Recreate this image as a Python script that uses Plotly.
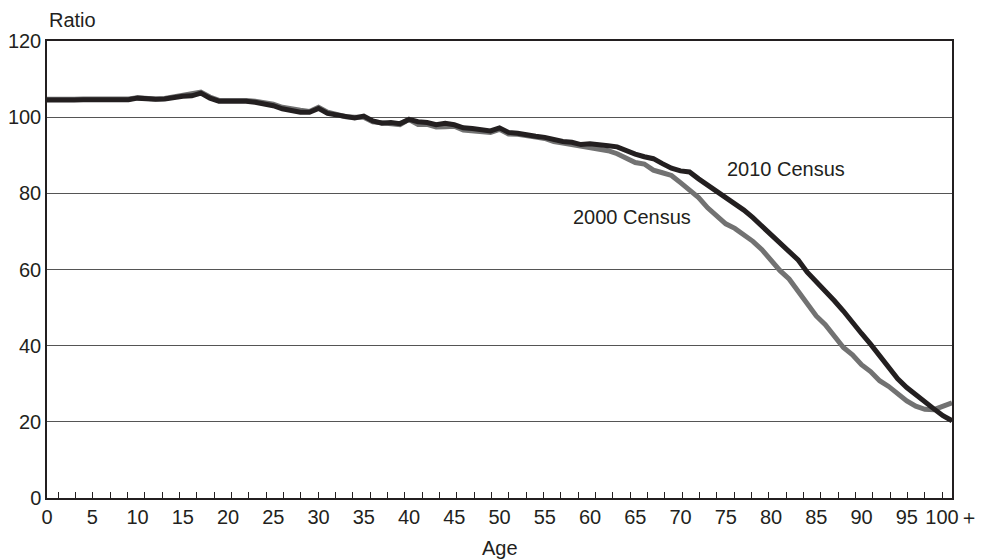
import plotly.graph_objects as go

# Sex ratio (males per 100 females) by single year of age, 0 to 100+
ages = list(range(0, 101))
age_labels = [str(a) for a in range(0, 100, 5)] + ["100＋"]
age_label_pos = list(range(0, 101, 5))

ratio_2000 = [
    104.7, 104.6, 104.6, 104.7, 104.8, 104.8, 104.6, 104.5, 104.6, 104.8,
    105.1, 104.9, 104.8, 104.9, 105.3, 105.7, 105.9, 106.6, 105.3, 104.4,
    104.4, 104.5, 104.4, 104.2, 103.8, 103.4, 102.6, 102.1, 101.8, 101.5,
    102.6, 101.3, 100.6, 100.1, 100.0, 100.0, 98.8, 98.5, 98.4, 98.0,
    99.4, 98.1, 98.1, 97.4, 97.5, 97.6, 96.6, 96.5, 96.4, 96.0,
    96.8, 95.6, 95.5, 95.0, 94.8, 94.4, 93.6, 93.2, 92.8, 92.3,
    92.2, 91.8, 91.2, 90.4, 89.1, 88.1, 87.7, 86.1, 85.4, 84.7,
    82.8, 80.8, 78.9, 76.2, 73.9, 72.0, 70.8, 69.2, 67.4, 65.2,
    62.4, 59.7, 57.5, 54.3, 51.0, 47.8, 45.5, 42.7, 39.5, 37.6,
    35.0, 33.2, 30.8, 29.3, 27.3, 25.5, 24.1, 23.3, 23.2, 24.0,
    25.0,
]

ratio_2010 = [
    104.5, 104.4, 104.4, 104.5, 104.6, 104.6, 104.4, 104.3, 104.4, 104.6,
    105.0, 104.8, 104.7, 104.8, 105.2, 105.5, 105.6, 106.3, 105.0, 104.2,
    104.2, 104.3, 104.2, 103.9, 103.5, 103.0, 102.2, 101.7, 101.3, 101.3,
    102.3, 101.0, 100.6, 100.0, 99.8, 100.3, 99.0, 98.4, 98.6, 98.3,
    99.4, 98.8, 98.6, 98.0, 98.4, 98.0, 97.2, 97.0, 96.8, 96.4,
    97.2, 96.0, 95.8, 95.3, 95.0, 94.7, 94.0, 93.6, 93.4, 92.8,
    93.0, 92.6, 92.5, 92.2, 91.2, 90.3, 89.6, 89.1, 87.8, 86.6,
    85.9, 85.6, 83.8, 82.2, 80.5, 78.9, 77.1, 75.6, 73.6, 71.4,
    69.3, 67.1, 65.0, 62.5, 59.3, 56.9, 54.5, 51.8, 49.1, 46.0,
    43.2, 40.4, 37.4, 34.3, 31.3, 29.0, 27.0, 25.2, 23.4, 21.6,
    20.3,
]

y_ticks = [0, 20, 40, 60, 80, 100, 120]

# small inside ticks along the age axis
minor_tick_pos = [1.25 + 1.915 * k for k in range(52)]

INK = "#231f20"
GREY = "#727272"
FONT = "Liberation Sans, Arial, Helvetica, sans-serif"

fig = go.Figure()
fig.add_trace(go.Scatter(
    x=ages, y=ratio_2000, mode="lines", name="2000 Census",
    line=dict(color=GREY, width=5), showlegend=False,
))
fig.add_trace(go.Scatter(
    x=ages, y=ratio_2010, mode="lines", name="2010 Census",
    line=dict(color=INK, width=5), showlegend=False,
))

fig.add_annotation(x=81.7, y=86.4, xref="x", yref="y", text="2010 Census",
                   showarrow=False, font=dict(size=20, color=INK, family=FONT))
fig.add_annotation(x=64.6, y=73.8, xref="x", yref="y", text="2000 Census",
                   showarrow=False, font=dict(size=20, color=INK, family=FONT))
fig.add_annotation(x=0, y=1.046, xref="paper", yref="paper", text="Ratio",
                   xanchor="left", yanchor="middle", showarrow=False,
                   font=dict(size=20, color=INK, family=FONT))
fig.add_annotation(x=0.5, y=-0.109, xref="paper", yref="paper", text="Age",
                   xanchor="center", yanchor="middle", showarrow=False,
                   font=dict(size=20, color=INK, family=FONT))

fig.update_layout(
    width=985, height=559,
    margin=dict(l=47, r=33, t=41, b=61, autoexpand=False),
    paper_bgcolor="white", plot_bgcolor="white",
    font=dict(family=FONT, size=20, color=INK),
    xaxis=dict(
        range=[0, 100], tickmode="array", tickvals=age_label_pos,
        ticktext=age_labels, ticks="", showgrid=False, zeroline=False,
        showline=True, linecolor=INK, linewidth=1.5, mirror=True,
        automargin=False, tickfont=dict(size=20, color=INK),
        minor=dict(tickmode="array", tickvals=minor_tick_pos,
                   ticks="inside", ticklen=6, tickcolor=INK, tickwidth=1.2,
                   showgrid=False),
    ),
    yaxis=dict(
        range=[0, 120], tickmode="array", tickvals=y_ticks,
        ticks="", showgrid=True, gridcolor="#555555", gridwidth=1.3,
        zeroline=False, showline=True, linecolor=INK, linewidth=1.5,
        mirror=True, automargin=False, tickfont=dict(size=20, color=INK),
    ),
)

fig.write_html("out.html")
